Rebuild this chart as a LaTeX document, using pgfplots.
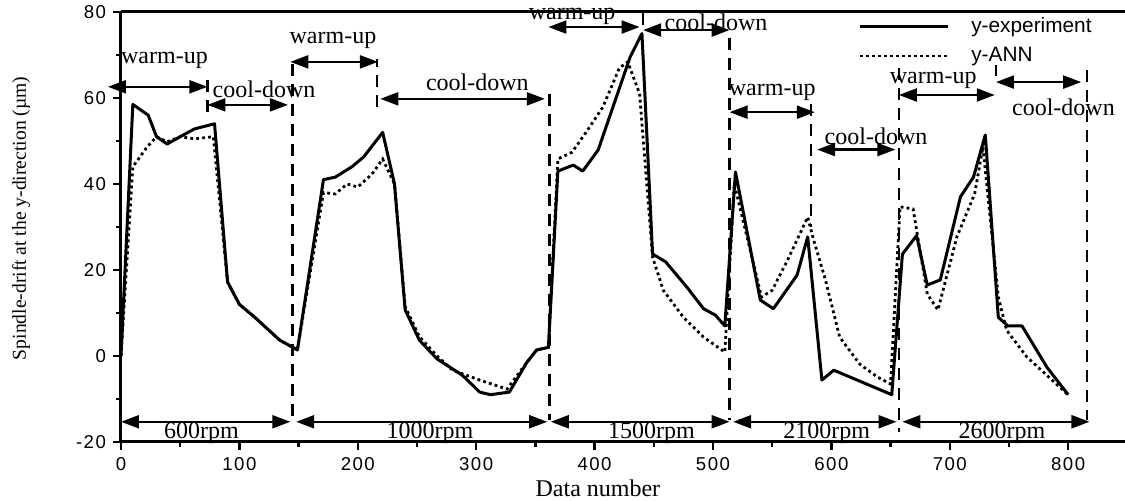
\documentclass[border=0pt]{standalone}
\usepackage{fontspec}
\setmainfont{Liberation Serif}
\newfontfamily\sansfont{Liberation Sans}
\newfontfamily\tickfont[LetterSpace=8]{Liberation Sans}
\usepackage{pgfplots}
\pgfplotsset{compat=1.18}
\usetikzlibrary{arrows.meta,calc}

\begin{document}
\begin{tikzpicture}[
  dbl/.style={line width=1.1pt,{Triangle[length=9pt,width=6.5pt]}-{Triangle[length=9pt,width=6.5pt]}},
  vdash/.style={line width=1.2pt,dash pattern=on 6pt off 4pt},
  lab/.style={font=\fontsize{12}{12}\selectfont,inner sep=0pt},
]
\begin{axis}[
  scale only axis, width=502pt, height=215pt,
  xmin=0, xmax=848, ymin=-20, ymax=80,
  axis x line*=box, axis y line*=left,
  xtick pos=bottom,
  xtick={0,100,...,800}, ytick={-20,0,...,80},
  minor tick num=1,
  tick align=outside,
  major tick length=4pt, minor tick length=2.5pt,
  axis line style={line width=1.5pt},
  tick style={line width=1.2pt,black},
  ticklabel style={font=\tickfont\fontsize{9.3}{10}\selectfont},
  /pgf/number format/assume math mode=true,
  clip=false,
  xlabel={Data number},
  ylabel={Spindle-drift at the y-direction (µm)},
  xlabel style={font=\fontsize{12}{12}\selectfont,at={(axis description cs:0.475,-0.107)},anchor=center},
  ylabel style={font=\fontsize{9.8}{10}\selectfont,at={(axis description cs:-0.0996,0.52)},anchor=center},
  legend style={draw=none,fill=none,at={(0.734,0.998)},anchor=north west,
    font=\sansfont\fontsize{10.4}{11}\selectfont,row sep=2pt,inner sep=0pt,
    /tikz/every odd column/.append style={column sep=9pt}},
  legend cell align=left,
  legend image code/.code={\draw[#1] (0pt,0pt) -- (44pt,0pt);},
]
\coordinate (sw) at (rel axis cs:0,0);
\coordinate (ne) at (rel axis cs:1,1);

\addplot[black,line width=1.5pt,line join=round] coordinates {
(0,0) (10,58.5) (23,56) (30,51) (39,49.3) (50,51) (62,52.8) (79,54)
(90,17.2) (100,12) (113,9) (134,3.7) (149,1.4)
(171,41) (181,41.6) (195,44) (205,46.3) (221,52) (231,40) (240,10.7)
(252,3.7) (267,-0.7) (288,-4.4) (303,-8.4) (312,-9) (328,-8.4) (343,-1.4) (351,1.4) (361,2)
(369,43) (382,44.4) (390,43) (403,47.9) (430,69.5) (440,75) (449,23.7)
(460,21.9) (478,16) (492,11) (502,9.5) (510,7)
(519,42.8) (540,13) (551,11) (571,18.8) (580,27.7) (592,-5.6) (602,-3.3) (651,-9)
(660,23.7) (672,28) (681,16.5) (692,17.7) (709,37) (720,41.6) (730,51.4)
(741,9) (749,7) (761,7) (782,-2.6) (800,-9)
};
\addlegendentry{y-experiment}

\addplot[black,line width=1.4pt,dash pattern=on 1.4pt off 1.6pt] coordinates {
(0,0) (10,44) (22,48.6) (30,51) (39,49.8) (50,51) (62,50.5) (78,51)
(90,17.2) (100,12) (113,9) (134,3.7) (149,1.4)
(171,38) (181,37.7) (191,40) (200,39.3) (212,42.3) (221,45.8) (231,40) (240,11.5)
(252,4.5) (267,0) (280,-3.3) (303,-5.6) (326,-7.7) (343,-1.4) (351,1.4) (361,2)
(369,45.8) (381,47.4) (394,52.5) (407,57.9) (421,67) (428,68.4) (438,61) (449,23)
(458,15.3) (475,9) (492,4.4) (510,0.9)
(518,40) (541,13.7) (550,15.3) (563,22.3) (580,32.3) (585,27) (595,17.7) (607,4.4)
(624,-1.9) (639,-4.9) (650,-6.5)
(658,34.7) (669,34.2) (681,14.4) (690,10.7) (706,27.7) (721,37.7) (728,48.6)
(741,13.7) (748,6) (765,-0.2) (799,-8.8)
};
\addlegendentry{y-ANN}

% phase boundaries
\draw[vdash] (axis cs:73,56.7) -- (axis cs:73,65);
\draw[vdash] (axis cs:145,68) -- (axis cs:145,-15);
\draw[vdash] (axis cs:216,58) -- (axis cs:216,69);
\draw[vdash] (axis cs:362,61) -- (axis cs:362,-15);
\draw[line width=1.2pt] (axis cs:441,80) -- (axis cs:441,77);
\draw[vdash] (axis cs:514,74) -- (axis cs:514,-15);
\draw[vdash] (axis cs:583,58.6) -- (axis cs:583,30);
\draw[vdash] (axis cs:657,67) -- (axis cs:657,-17.7);
\draw[line width=1.2pt] (axis cs:739,65) -- (axis cs:739,67.7);
\draw[vdash] (axis cs:816,66.5) -- (axis cs:816,-15);

% warm-up / cool-down
\draw[dbl] (axis cs:-11,62.6) -- (axis cs:73,62.6);
\node[lab] at (axis cs:36.7,68.8) {warm-up};
\draw[dbl] (axis cs:73,58.4) -- (axis cs:141,58.4);
\node[lab] at (axis cs:120.8,62) {cool-down};
\draw[dbl] (axis cs:143,68.4) -- (axis cs:217,68.4);
\node[lab] at (axis cs:179,73.5) {warm-up};
\draw[dbl] (axis cs:219,59.8) -- (axis cs:358,59.8);
\node[lab] at (axis cs:301,63.7) {cool-down};
\draw[dbl] (axis cs:361,76.5) -- (axis cs:438,76.5);
\node[lab] at (axis cs:381,79) {warm-up};
\draw[dbl] (axis cs:441,75.8) -- (axis cs:514,75.8);
\node[lab] at (axis cs:502.6,77.7) {cool-down};
\draw[dbl] (axis cs:514,56.7) -- (axis cs:586,56.7);
\node[lab] at (axis cs:550,61.4) {warm-up};
\draw[dbl] (axis cs:588,48) -- (axis cs:654,48);
\node[lab] at (axis cs:637.7,51) {cool-down};
\draw[dbl] (axis cs:657,60.7) -- (axis cs:738,60.7);
\node[lab] at (axis cs:686,64.2) {warm-up};
\draw[dbl] (axis cs:739,63.7) -- (axis cs:811,63.7);
\node[lab] at (axis cs:796,57.9) {cool-down};

% speed ranges
\draw[dbl] (axis cs:0,-15.3) -- (axis cs:143,-15.3);
\draw[dbl] (axis cs:148,-15.3) -- (axis cs:360,-15.3);
\draw[dbl] (axis cs:363,-15.3) -- (axis cs:514,-15.3);
\draw[dbl] (axis cs:517,-15.3) -- (axis cs:655,-15.3);
\draw[dbl] (axis cs:660,-15.3) -- (axis cs:818,-15.3);
\node[lab] at (axis cs:68,-18) {600rpm};
\node[lab] at (axis cs:261,-18) {1000rpm};
\node[lab] at (axis cs:448,-18) {1500rpm};
\node[lab] at (axis cs:596,-18) {2100rpm};
\node[lab] at (axis cs:744,-18) {2600rpm};
\end{axis}
\pgfresetboundingbox
\path[use as bounding box] ($(sw)+(-60.5pt,-29.5pt)$) rectangle ($(ne)+(0pt,6pt)$);
\end{tikzpicture}
\end{document}
